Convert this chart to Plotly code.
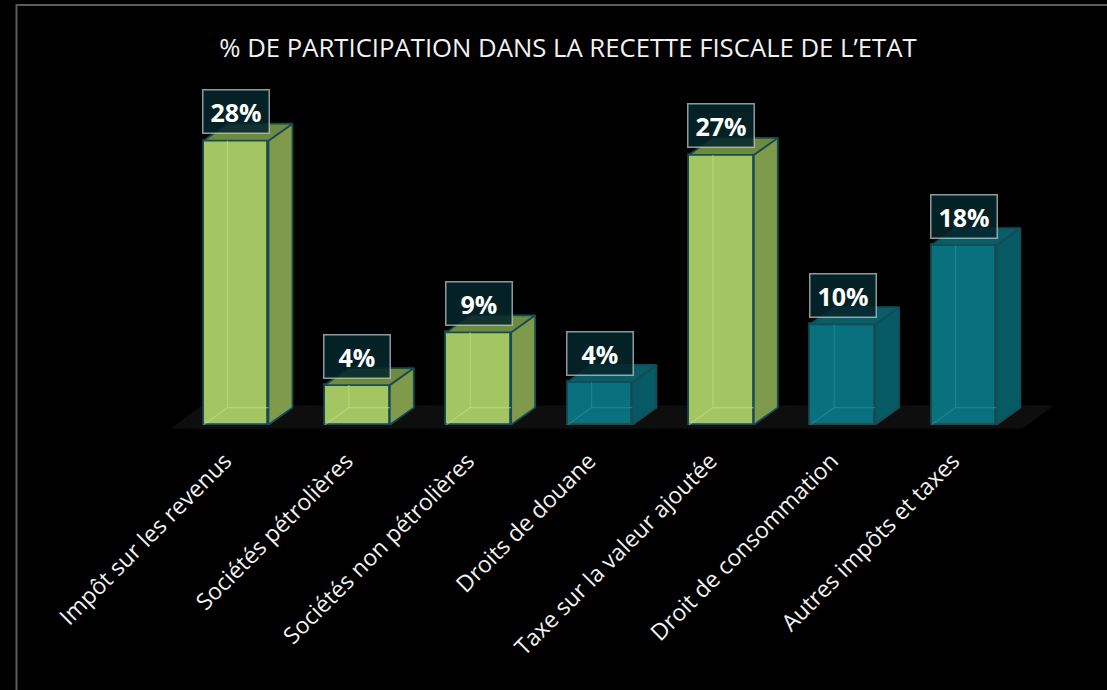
import plotly.graph_objects as go

# ---- data ----
categories = [
    "Impôt sur les revenus",
    "Sociétés pétrolières",
    "Sociétés non pétrolières",
    "Droits de douane",
    "Taxe sur la valeur ajoutée",
    "Droit de consommation",
    "Autres impôts et taxes",
]
shares = [28.0, 3.9, 9.1, 4.2, 26.6, 9.9, 17.7]
groups = ["green", "green", "green", "teal", "green", "teal", "teal"]
title_text = "% DE PARTICIPATION DANS LA RECETTE FISCALE DE L\u2019ETAT"

# ---- style ----
palette = {
    "green": {"front": "#A3C562", "side": "#7F9A4A", "top": "#6E8A40",
              "inner": "rgba(195,230,135,0.55)"},
    "teal": {"front": "#08717D", "side": "#065A63", "top": "#0A5C66",
             "inner": "rgba(40,150,160,0.55)"},
}
edge = "#164B55"
W = 0.535      # bar width (x units)
DX = 0.198     # oblique depth in x units
DY = 1.68      # oblique depth in y units
FONT = "Open Sans"

n = len(categories)
xs = list(range(n))

fig = go.Figure()

# front faces
fig.add_trace(go.Bar(
    x=xs, y=shares, width=W,
    marker=dict(color=[palette[g]["front"] for g in groups],
                line=dict(color=edge, width=1.8)),
    hoverinfo="skip", showlegend=False,
))

# side / top faces and faint hidden edges computed from the values
for x, v, g in zip(xs, shares, groups):
    c = palette[g]
    l, r = x - W / 2, x + W / 2
    fig.add_trace(go.Scatter(
        x=[r, r + DX, r + DX, r, r], y=[0, DY, v + DY, v, 0],
        fill="toself", fillcolor=c["side"], mode="lines",
        line=dict(color=edge, width=1.8), hoverinfo="skip", showlegend=False))
    fig.add_trace(go.Scatter(
        x=[l, r, r + DX, l + DX, l], y=[v, v, v + DY, v + DY, v],
        fill="toself", fillcolor=c["top"], mode="lines",
        line=dict(color=edge, width=1.8), hoverinfo="skip", showlegend=False))
    fig.add_trace(go.Scatter(
        x=[l, l + DX, l + DX, None, l + DX, r],
        y=[0, DY, v, None, DY, DY],
        mode="lines", line=dict(color=c["inner"], width=1.2),
        hoverinfo="skip", showlegend=False))

# floor
fx0, fx1 = -0.54, n - 1 + 0.48
fy = -0.4
fdx, fdy = 0.26, 2.3
fig.add_shape(type="path",
              path=f"M {fx0} {fy} L {fx1} {fy} L {fx1 + fdx} {fy + fdy} L {fx0 + fdx} {fy + fdy} Z",
              xref="x", yref="y", fillcolor="#0E0E0E", line=dict(width=0), layer="below")

# data labels
for x, v in zip(xs, shares):
    fig.add_annotation(
        x=x, y=v, xref="x", yref="y", yshift=29,
        text=f"<b>{round(v)}%</b>", showarrow=False,
        font=dict(family=FONT, size=25, color="#FFFFFF"),
        bgcolor="rgba(4,38,43,0.88)", bordercolor="rgba(190,200,200,0.75)",
        borderwidth=1.5, borderpad=5, width=55, height=32,
        xanchor="center", yanchor="middle")

# chart frame
L, R, T, B = 145, 52, 90, 240
PW, PH = 1107 - L - R, 690 - T - B
fig.add_shape(type="rect", xref="paper", yref="paper",
              x0=(16.5 - L) / PW, x1=(1115 - L) / PW,
              y0=(690 - B - 5) / PH, y1=(690 - B - 700) / PH,
              line=dict(color="#5A5A5A", width=2), fillcolor="rgba(0,0,0,0)")

fig.update_layout(
    template="none",
    width=1107, height=690,
    margin=dict(l=L, r=R, t=T, b=B),
    paper_bgcolor="#000000", plot_bgcolor="#000000",
    title=dict(text=title_text, xref="container", yref="container",
               x=568 / 1107, y=1 - 48 / 690, xanchor="center", yanchor="middle",
               font=dict(family=FONT, size=25.7, color="#F2F2F2")),
    xaxis=dict(range=[-0.75, n - 1 + 0.75], tickmode="array", tickvals=xs,
               ticktext=categories, tickangle=-45, showgrid=False,
               zeroline=False, showline=False, ticks="", automargin=False,
               ticklabelshift=-11, ticklabelstandoff=-8,
               tickfont=dict(family=FONT, size=23, color="#F2F2F2"), fixedrange=True),
    yaxis=dict(range=[-2.5, 33], visible=False, showgrid=False, zeroline=False,
               fixedrange=True, automargin=False),
    showlegend=False,
    bargap=0,
)

fig.write_html(
    "out.html",
    config={"displayModeBar": False},
    post_script="document.body.style.margin='0';document.body.style.overflow='hidden';"
                "document.documentElement.style.overflow='hidden';",
)
